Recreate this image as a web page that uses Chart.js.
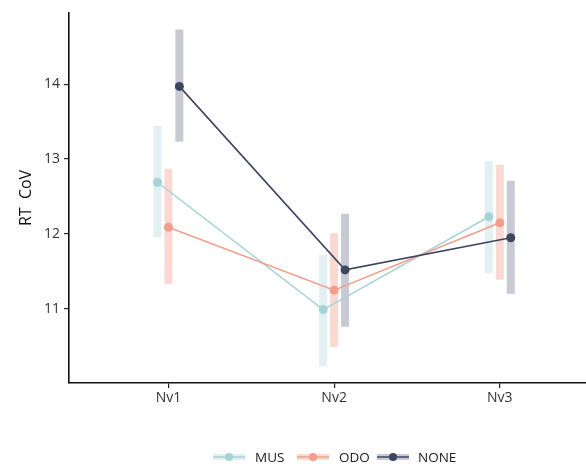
<!DOCTYPE html>
<html>
<head>
<meta charset="utf-8">
<script src="https://cdn.jsdelivr.net/npm/chart.js@4"></script>
<style>
  html, body { margin: 0; padding: 0; background: #fff; }
  #wrap { width: 586px; height: 464px; }
</style>
</head>
<body>
<div id="wrap"><canvas id="chart" width="586" height="464"></canvas></div>
<script>
// ---------------- Data ----------------
const categories = ['Nv1', 'Nv2', 'Nv3'];
const groups = ['MUS', 'ODO', 'NONE'];

const musMean  = [12.69, 10.99, 12.23];
const musLow   = [11.96, 10.23, 11.48];
const musHigh  = [13.44, 11.72, 12.97];

const odoMean  = [12.09, 11.25, 12.15];
const odoLow   = [11.33, 10.49, 11.39];
const odoHigh  = [12.87, 12.01, 12.92];

const noneMean = [13.97, 11.52, 11.95];
const noneLow  = [13.23, 10.76, 11.20];
const noneHigh = [14.73, 12.27, 12.71];

const yTicks = [11, 12, 13, 14];

// ---------------- Styles ----------------
const lineColors = ['#a6d3d5', '#f39e8c', '#3e455f'];
const barColors  = ['#e2f0f1', '#fbd9d2', '#c8cad3'];
const dodge = [-0.066, 0, 0.066];
const FONT = '"Open Sans", "Noto Sans", sans-serif';

const means = [musMean, odoMean, noneMean];
const lows  = [musLow, odoLow, noneLow];
const highs = [musHigh, odoHigh, noneHigh];

function pointsFor(g){
    return means[g].map((v,i)=>({x: i + 1 + dodge[g], y: v}));
}
// vertical segments, separated by a null so the line breaks
function barsFor(g){
    const out = [];
    categories.forEach((c,i)=>{
        const x = i + 1 + dodge[g];
        out.push({x, y: lows[g][i]}, {x, y: highs[g][i]}, {x, y: null});
    });
    return out;
}

const datasets = [];
groups.forEach((name,g)=>{
    datasets.push({
        label: name + ' range', data: barsFor(g), type: 'line',
        borderColor: barColors[g], borderWidth: 8, borderCapStyle: 'butt',
        pointRadius: 0, spanGaps: false, order: 6 - g
    });
});
groups.forEach((name,g)=>{
    datasets.push({
        label: name, data: pointsFor(g), type: 'line',
        borderColor: lineColors[g], backgroundColor: lineColors[g],
        borderWidth: g === 2 ? 1.6 : 1.5, pointRadius: 4.5, pointHoverRadius: 4.5,
        pointBorderWidth: 0, order: 3 - g, tension: 0
    });
});

// ---------------- Legend (drawn below the axis) ----------------
const legendPlugin = {
    id: 'bottomLegend',
    afterDraw(chart){
        const ctx = chart.ctx;
        const y = 457;
        const items = [{x: 213, tx: 255}, {x: 297, tx: 339}, {x: 377, tx: 418}];
        ctx.save();
        ctx.font = '13.5px ' + FONT;
        ctx.textBaseline = 'middle';
        groups.forEach((name,g)=>{
            const it = items[g];
            ctx.fillStyle = barColors[g];
            ctx.fillRect(it.x, y - 3, 32, 6);
            ctx.strokeStyle = lineColors[g];
            ctx.lineWidth = 1.5;
            ctx.beginPath(); ctx.moveTo(it.x, y); ctx.lineTo(it.x + 32, y); ctx.stroke();
            ctx.fillStyle = lineColors[g];
            ctx.beginPath(); ctx.arc(it.x + 16, y, 4, 0, Math.PI * 2); ctx.fill();
            ctx.fillStyle = '#222';
            ctx.fillText(name, it.tx, y + 1);
        });
        ctx.restore();
    }
};

new Chart(document.getElementById('chart'), {
    type: 'line',
    data: { datasets },
    plugins: [legendPlugin],
    options: {
        responsive: false,
        animation: false,
        layout: { autoPadding: false, padding: { top: 13, left: 0, right: 0, bottom: 0 } },
        plugins: { legend: { display: false }, tooltip: { enabled: false } },
        scales: {
            x: {
                type: 'linear', min: 0.4, max: 3.52,
                afterBuildTicks: s => { s.ticks = categories.map((c,i)=>({value: i + 1})); },
                afterFit: s => { s.height = 81; },
                ticks: {
                    callback: v => categories[v - 1],
                    color: '#333', font: { size: 14, family: FONT }, padding: 2, maxRotation: 0
                },
                grid: { display: true, drawOnChartArea: false, drawTicks: true, tickLength: 5, color: '#222', lineWidth: 1.2 },
                border: { display: true, color: '#111', width: 1.6 }
            },
            y: {
                min: 10.01, max: 14.95,
                afterBuildTicks: s => { s.ticks = yTicks.map(v=>({value: v})); },
                afterFit: s => { s.width = 69; },
                ticks: { color: '#333', font: { size: 14, family: FONT }, padding: 4 },
                title: { display: true, text: 'RT  CoV', color: '#111', font: { size: 16, family: FONT }, padding: { top: 17, bottom: 0 } },
                grid: { display: true, drawOnChartArea: false, drawTicks: true, tickLength: 5, color: '#222', lineWidth: 1.2 },
                border: { display: true, color: '#111', width: 1.6 }
            }
        }
    }
});
</script>
</body>
</html>
